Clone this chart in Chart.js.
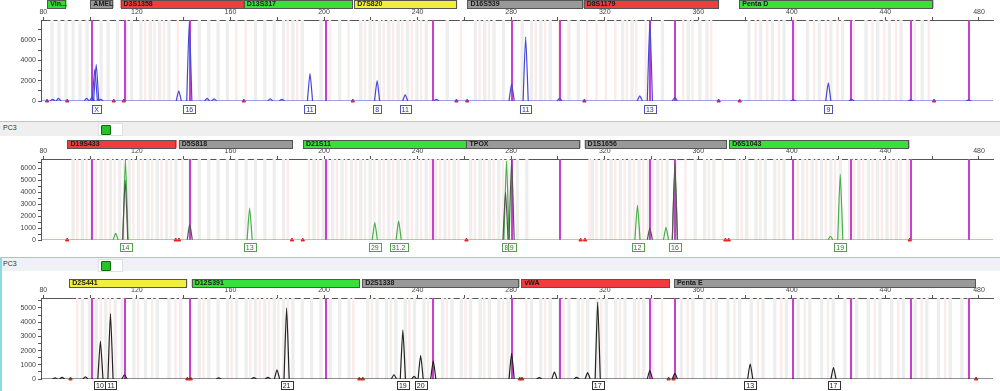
<!DOCTYPE html>
<html>
<head>
<meta charset="utf-8">
<script src="https://cdn.jsdelivr.net/npm/chart.js@4.4.0/dist/chart.umd.min.js"></script>
<style>
body{margin:0;background:#fff;width:1000px;height:391px;overflow:hidden;position:relative;font-family:"Liberation Sans",Arial,sans-serif;}
canvas{position:absolute;left:0;}
.strip{position:absolute;left:0;width:1000px;background:#efefef;border-top:1px solid #c4c4c4;font-size:7px;color:#333;}
.strip span{position:absolute;left:3px;top:2px;}
.ico{position:absolute;left:98px;top:1px;width:23px;height:11px;background:#fff;border:1px solid #e0e0e0;}
.ico div{position:absolute;left:2px;top:1px;width:8px;height:8px;background:#27c427;border:1px solid #0a6a0a;border-radius:1px;}
</style>
</head>
<body>
<canvas id="p1" width="1000" height="120" style="top:0px"></canvas>
<div class="strip" style="top:121px;height:14px"><span>PC3</span><div class="ico"><div></div></div></div>
<canvas id="p2" width="1000" height="120" style="top:136px"></canvas>
<div class="strip" style="top:257px;height:13px;background:#eef2f4;border-top:1px solid #86d3dd"><span>PC3</span><div class="ico"><div></div></div></div>
<div style="position:absolute;left:0;top:257px;width:2px;height:134px;background:#8fd8e0"></div>
<canvas id="p3" width="1000" height="120" style="top:271px"></canvas>
<script>
// asse x comune (bp)
var xMin = 79, xMax = 486;
var xTickValues = [80,100,120,140,160,180,200,220,240,260,280,300,320,340,360,380,400,420,440,460,480];

// pannello 1 (blu)
var markers1Name = ["Vin...","AMEL","D3S1358","D13S317","D7S820","D16S539","D8S1179","Penta D"];
var markers1Start = [81.7,100.1,113.0,165.7,212.9,261.3,311.0,377.5];
var markers1End = [89.9,110.0,165.7,212.4,257.0,311.0,368.9,460.6];
var markers1Color = ["#2fdc2f","#999999","#f03c3c","#38e038","#f2ef3a","#999999","#f03c3c","#38e038"];
var blueX = [84.0,86.5,98.5,100.8,102.0,102.6,104.5,137.9,142.4,150.0,153.0,177.0,182.0,194.0,222.7,234.7,248.0,280.2,286.2,300.7,335.0,339.3,350.0,400.6,415.6,425.5,450.8,475.6];
var blueH = [150,250,250,350,3100,3600,150,1000,7800,250,200,200,150,2700,2000,600,150,1700,6300,250,500,7900,350,120,1770,150,120,120];
var alleles1Pos = [102.8,142.4,194.0,222.7,234.7,286.2,339.3,415.6];
var alleles1Text = ["X","16","11","8","11","11","13","9"];
var red1 = [81.6,90.2,110.1,114.4,165.7,212.3,256.6,261.2,311.3,368.7,377.7,460.8];
var std1 = [100.6,114.7,142.6,200.9,246.7,280.2,300.7,339.3,350.0,400.6,425.5,450.8,475.6];
var grey1 = [83,86,89,92,95,98,104,107,111,117,121,125,129,133,146,150,154,158,170,174,178,182,186,190,198,206,215,219,223,227,231,235,239,243,252,264,268,272,276,284,288,292,296,304,308,327,331,344,355,360,363,381,386,391,396,406,411,416,421,431,436,441,446,455];
var pink1 = [115,123,127,131,137,162,166,184,188,202,210,217,221,225,229,233,237,241,258,266,270,290,294,300,312,316,320,324,329,333,337,353,357,365,384,389,394,401,409,414,419,426,434,439,444,452,458];

// pannello 2 (verde)
var markers2Name = ["D19S433","D5S818","D21S11","TPOX","D1S1656","D6S1043"];
var markers2Start = [90.3,137.9,191.0,260.9,311.4,373.2];
var markers2End = [137.0,186.7,260.9,309.7,371.9,450.3];
var markers2Color = ["#f03c3c","#999999","#38e038","#999999","#999999","#38e038"];
var greenX = [110.9,115.1,168.2,221.7,231.9,278.0,334.0,346.2,350.0,416.5,420.7];
var greenH = [560,6700,2650,1450,1590,6600,2900,1050,6000,300,5500];
var darkX = [115.0,142.6,277.6,280.2,339.3,350.0];
var darkH = [5000,1300,4000,6700,1000,6400];
var alleles2Pos = [115.1,168.2,221.7,231.9,278.0,280.2,334.0,350.0,420.7];
var alleles2Text = ["14","13","29","31.2","8","9","12","16","19"];
var red2 = [90.2,136.6,138.0,186.3,190.9,260.9,309.7,311.6,371.6,373.0,450.4];
var std2 = [100.6,142.6,200.9,246.7,280.2,300.7,339.3,350.0,400.6,425.5,450.8,475.6];
var grey2 = [92,96,100,104,108,112,116,120,124,128,132,136,142,146,150,154,158,162,166,170,174,178,182,195,199,203,207,211,215,219,223,227,231,235,239,243,247,251,255,262,266,270,274,278,282,286,314,318,322,326,330,334,338,342,346,358,362,366,376,380,384,388,392,396,404,408,412,416,420,424,428,432,436,440,444];
var pink2 = [94,98,102,106,110,114,118,122,126,130,134,139,184,193,197,201,205,209,213,217,221,225,229,233,237,241,245,249,253,257,264,268,272,276,280,313,316,320,324,328,332,336,340,344,350,354,364,370,378,386,394,402,406,410,414,418,426,430,434,438,442,446,449];

// pannello 3 (nero)
var markers3Name = ["D2S441","D12S391","D2S1338","vWA","Penta E"];
var markers3Start = [91.1,143.4,216.3,284.4,349.6];
var markers3End = [141.7,215.4,283.6,347.9,478.6];
var markers3Color = ["#f2ef3a","#38e038","#999999","#f03c3c","#999999"];
var blackX = [85.0,88.0,98.0,104.4,108.7,114.7,155.0,170.0,176.0,179.9,184.0,229.9,233.7,238.5,241.3,246.7,280.2,292.0,298.5,308.0,312.7,317.0,339.3,350.0,382.2,417.8];
var blackH = [80,120,150,2670,4600,300,80,100,120,650,5000,300,3440,180,1650,1280,1800,100,490,120,450,5420,600,400,1070,810];
var alleles3Pos = [104.2,108.9,184.0,233.7,241.3,317.0,382.2,417.8];
var alleles3Text = ["10","11","21","19","20","17","13","17"];
var red3 = [91.6,141.6,143.0,215.1,216.6,283.7,284.7,347.3,349.4,478.8];
var std3 = [100.6,114.7,142.6,200.9,246.7,280.2,300.7,339.3,350.0,400.6,425.5,450.8,475.6];
var grey3 = [96,99,102,106,110,113,118,123,128,133,138,146,150,154,158,162,166,170,174,178,182,186,190,194,198,202,206,210,218,222,226,230,234,238,242,250,254,258,262,266,270,274,278,288,292,296,300,304,308,312,316,320,324,328,332,336,352,357,362,367,372,377,382,387,392,397,402,407,412,417,422,427,432,437,442,447,452,457,462,467,472];
var pink3 = [94,104,108,120,126,136,148,160,168,172,176,180,184,212,220,228,236,244,252,260,268,276,286,294,302,310,318,326,334,340,344,355,365,375,385,395,405,415,425,435,445,455,465,475];

var decorPlugin = {
    id: 'decor',
    beforeDatasetsDraw: function(chart, args, o){
        var ctx = chart.ctx, a = chart.chartArea, xs = chart.scales.x;
        ctx.save();
        ctx.beginPath();
        ctx.rect(a.left, a.top, a.right - a.left, a.bottom - a.top);
        ctx.clip();
        ctx.fillStyle = '#fcebeb';
        o.pink.forEach(function(v){
            var p = xs.getPixelForValue(v);
            ctx.fillRect(p, a.top, xs.getPixelForValue(v + 1.0) - p, a.bottom - a.top);
        });
        ctx.fillStyle = '#eeeeee';
        o.grey.forEach(function(v){
            var p = xs.getPixelForValue(v);
            ctx.fillRect(p, a.top, xs.getPixelForValue(v + 1.4) - p, a.bottom - a.top);
        });
        ctx.strokeStyle = '#c93fd0';
        ctx.lineWidth = 2;
        o.std.forEach(function(v){
            var p = Math.round(xs.getPixelForValue(v));
            ctx.beginPath();
            ctx.moveTo(p, a.top);
            ctx.lineTo(p, a.bottom);
            ctx.stroke();
        });
        ctx.restore();
    },
    afterDraw: function(chart, args, o){
        var ctx = chart.ctx, a = chart.chartArea, xs = chart.scales.x;
        ctx.save();
        // barre dei marcatori
        ctx.font = 'bold 7px "Liberation Sans", Arial, sans-serif';
        ctx.textBaseline = 'middle';
        for (var i = 0; i < o.mName.length; i++) {
            var x1 = xs.getPixelForValue(o.mStart[i]);
            var x2 = xs.getPixelForValue(o.mEnd[i]);
            ctx.fillStyle = o.mColor[i];
            ctx.fillRect(x1, o.barY, x2 - x1, 8);
            ctx.strokeStyle = '#555';
            ctx.lineWidth = 1;
            ctx.strokeRect(Math.round(x1) + 0.5, o.barY + 0.5, Math.round(x2 - x1) - 1, 8);
            ctx.fillStyle = '#1a1a1a';
            ctx.fillText(o.mName[i], x1 + 3, o.barY + 4.5);
        }
        // etichette alleli
        ctx.font = '7px "Liberation Sans", Arial, sans-serif';
        ctx.textAlign = 'center';
        for (var j = 0; j < o.aPos.length; j++) {
            var cx = xs.getPixelForValue(o.aPos[j]);
            var w = Math.max(8, ctx.measureText(o.aText[j]).width + 4);
            ctx.fillStyle = '#fff';
            ctx.fillRect(cx - w / 2, a.bottom + o.boxOff, w, 9);
            ctx.strokeStyle = o.boxColor;
            ctx.strokeRect(Math.round(cx - w / 2) + 0.5, a.bottom + o.boxOff + 0.5, Math.round(w), 8);
            ctx.fillStyle = o.boxText;
            ctx.fillText(o.aText[j], cx, a.bottom + o.boxOff + 5);
        }
        ctx.restore();
    }
};

function creaPannello(id, cfg){
    var datasets = [];
    datasets.push({
        data: [{x: xMin, y: 0}, {x: xMax, y: 0}],
        borderColor: cfg.color, borderWidth: 1, pointRadius: 0
    });
    cfg.peaks.forEach(function(pk){
        for (var i = 0; i < pk.x.length; i++) {
            datasets.push({
                data: [{x: pk.x[i] - 1.1, y: 0}, {x: pk.x[i], y: pk.h[i]}, {x: pk.x[i] + 1.1, y: 0}],
                borderColor: pk.color, borderWidth: 1.2, pointRadius: 0, tension: 0.2
            });
        }
    });
    datasets.push({
        data: cfg.red.map(function(v){ return {x: v, y: 0}; }),
        showLine: false, pointStyle: 'triangle', pointRadius: 2,
        backgroundColor: '#e42828', borderColor: '#e42828', clip: false
    });
    var tickFont = {size: 7, family: '"Liberation Sans", Arial, sans-serif'};
    return new Chart(document.getElementById(id), {
        type: 'line',
        data: {datasets: datasets},
        plugins: [decorPlugin],
        options: {
            responsive: false,
            animation: false,
            layout: {padding: {left: 0, right: 7, top: 0, bottom: cfg.padBottom}},
            plugins: {
                legend: {display: false},
                tooltip: {enabled: false},
                decor: {
                    mName: cfg.mName, mStart: cfg.mStart, mEnd: cfg.mEnd, mColor: cfg.mColor,
                    barY: cfg.barY, aPos: cfg.aPos, aText: cfg.aText,
                    boxColor: cfg.boxColor, boxText: cfg.boxText, boxOff: cfg.boxOff,
                    std: cfg.std, grey: cfg.grey, pink: cfg.pink
                }
            },
            scales: {
                x: {
                    type: 'linear', position: 'top', min: xMin, max: xMax,
                    afterFit: function(s){ s.height = cfg.topH; },
                    afterBuildTicks: function(s){ s.ticks = xTickValues.map(function(v){ return {value: v}; }); },
                    ticks: {
                        autoSkip: false, maxRotation: 0, padding: 1, color: '#444', font: tickFont,
                        callback: function(v){ return v % 40 === 0 ? String(v) : ''; }
                    },
                    grid: {drawOnChartArea: false, tickLength: 3, color: '#555'},
                    border: {color: '#555'}
                },
                y: {
                    type: 'linear', min: 0, max: cfg.yMax,
                    afterFit: function(s){ s.width = 41; },
                    afterBuildTicks: function(s){ s.ticks = cfg.yTicks.map(function(v){ return {value: v}; }); },
                    ticks: {
                        autoSkip: false, padding: 2, color: '#444', font: tickFont,
                        callback: function(v){ return v % cfg.yLabelStep === 0 ? String(v) : ''; }
                    },
                    grid: {drawOnChartArea: false, tickLength: 3, color: '#555'},
                    border: {color: '#555'}
                }
            }
        }
    });
}

creaPannello('p1', {
    color: '#4646d8', topH: 20, padBottom: 19, yMax: 7950,
    yTicks: [0,1000,2000,3000,4000,5000,6000,7000], yLabelStep: 2000,
    peaks: [{x: blueX, h: blueH, color: '#4646d8'}],
    red: red1, std: std1, grey: grey1, pink: pink1,
    mName: markers1Name, mStart: markers1Start, mEnd: markers1End, mColor: markers1Color, barY: 0,
    aPos: alleles1Pos, aText: alleles1Text, boxColor: '#5050c0', boxText: '#3030a0', boxOff: 4
});
creaPannello('p2', {
    color: '#45b045', topH: 23, padBottom: 16, yMax: 6750,
    yTicks: [0,500,1000,1500,2000,2500,3000,3500,4000,4500,5000,5500,6000,6500], yLabelStep: 1000,
    peaks: [{x: darkX, h: darkH, color: '#555555'}, {x: greenX, h: greenH, color: '#45b045'}],
    red: red2, std: std2, grey: grey2, pink: pink2,
    mName: markers2Name, mStart: markers2Start, mEnd: markers2End, mColor: markers2Color, barY: 4,
    aPos: alleles2Pos, aText: alleles2Text, boxColor: '#50a050', boxText: '#2a7a2a', boxOff: 3
});
creaPannello('p3', {
    color: '#222222', topH: 27, padBottom: 12, yMax: 5700,
    yTicks: [0,500,1000,1500,2000,2500,3000,3500,4000,4500,5000,5500], yLabelStep: 1000,
    peaks: [{x: blackX, h: blackH, color: '#222222'}],
    red: red3, std: std3, grey: grey3, pink: pink3,
    mName: markers3Name, mStart: markers3Start, mEnd: markers3End, mColor: markers3Color, barY: 8,
    aPos: alleles3Pos, aText: alleles3Text, boxColor: '#333', boxText: '#222', boxOff: 2
});
</script>
</body>
</html>
